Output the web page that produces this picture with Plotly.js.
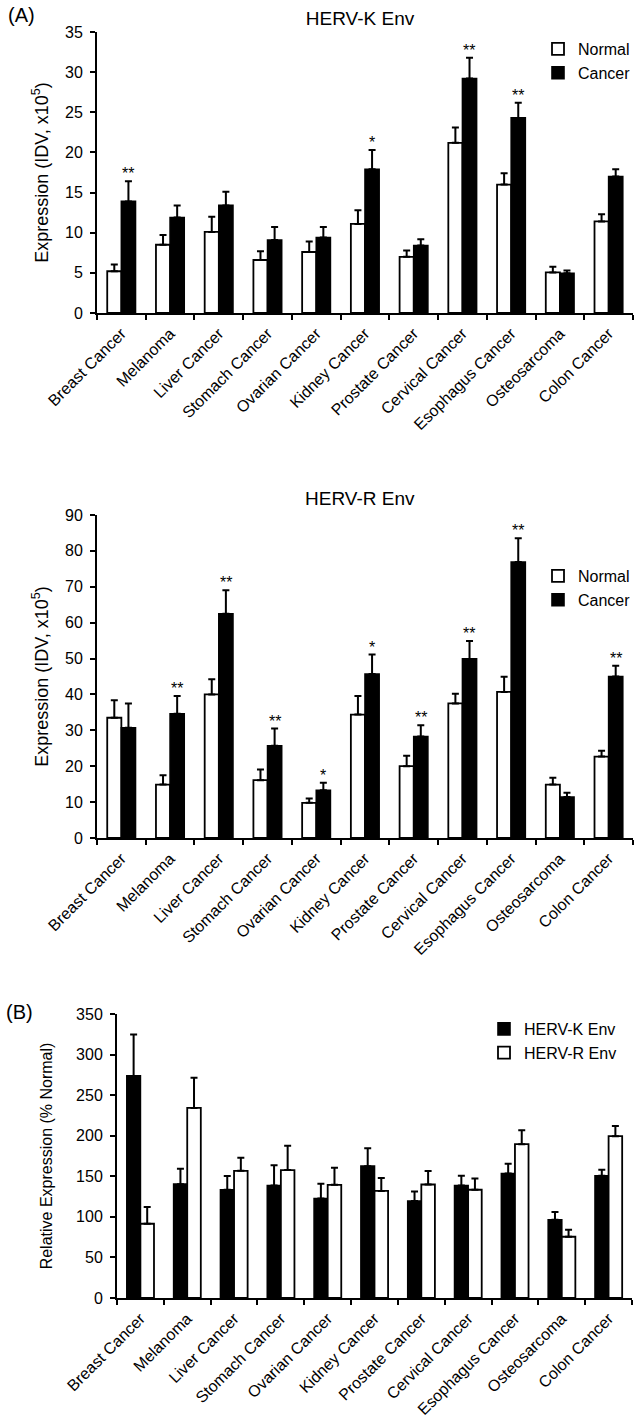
<!DOCTYPE html>
<html><head><meta charset="utf-8">
<script src="https://cdn.plot.ly/plotly-3.0.1.min.js"></script>
<style>html,body{margin:0;padding:0;background:#fff}#chart{width:636px;height:1428px}</style>
</head><body><div id="chart"></div>
<script>
const categories = ["Breast Cancer","Melanoma","Liver Cancer","Stomach Cancer","Ovarian Cancer","Kidney Cancer","Prostate Cancer","Cervical Cancer","Esophagus Cancer","Osteosarcoma","Colon Cancer"];

// HERV-K Env (IDV x10^5)
const kNormal    = [5.2, 8.5, 10.1, 6.6, 7.6, 11.1, 7.0, 21.2, 16.0, 5.05, 11.4];
const kNormalErr = [0.85, 1.2, 1.9, 1.1, 1.3, 1.7, 0.8, 1.9, 1.4, 0.7, 0.9];
const kCancer    = [13.9, 11.9, 13.4, 9.1, 9.4, 17.9, 8.4, 29.2, 24.3, 4.95, 17.0];
const kCancerErr = [2.5, 1.5, 1.7, 1.6, 1.3, 2.4, 0.8, 2.6, 1.9, 0.35, 0.9];
const kSig       = ["**", "", "", "", "", "*", "", "**", "**", "", ""];

// HERV-R Env (IDV x10^5)
const rNormal    = [33.5, 14.9, 40.0, 16.1, 9.8, 34.4, 20.0, 37.5, 40.7, 14.9, 22.7];
const rNormalErr = [4.9, 2.6, 4.2, 3.0, 1.2, 5.2, 2.9, 2.7, 4.2, 1.9, 1.6];
const rCancer    = [30.7, 34.6, 62.5, 25.7, 13.3, 45.7, 28.3, 49.9, 76.9, 11.4, 45.0];
const rCancerErr = [6.8, 5.0, 6.5, 4.8, 2.1, 5.4, 3.1, 5.0, 6.6, 1.2, 3.0];
const rSig       = ["", "**", "**", "**", "*", "*", "**", "**", "**", "", "**"];

// Relative expression (% Normal)
const relK    = [273.7, 140.3, 133.4, 138.7, 122.7, 162.5, 119.4, 138.7, 153.5, 96.4, 150.6];
const relKErr = [51, 19, 17, 25, 18, 22, 12, 12, 12, 9.5, 7.5];
const relR    = [91.5, 234.3, 156.7, 157.6, 139.5, 132.0, 139.9, 133.4, 189.6, 75.5, 199.4];
const relRErr = [20.5, 37, 16, 30, 21, 16, 16.5, 14, 17, 8.5, 12.5];

const W = 636, H = 1428;
const px = x => x / W;
const py = y => 1 - y / H;
const zeros = categories.map(() => 0);

function errUp(arr) {
  return {type: 'data', symmetric: false, array: arr, arrayminus: zeros,
          color: '#000', thickness: 2, width: 3.5};
}
const whiteBar = {color: '#fff', line: {color: '#000', width: 1.8}};
const blackBar = {color: '#000', line: {color: '#000', width: 1.6}};

const traces = [
  {type: 'bar', name: 'Normal', x: categories, y: kNormal, error_y: errUp(kNormalErr),
   marker: whiteBar, xaxis: 'x', yaxis: 'y', legend: 'legend', legendgroup: 'a1'},
  {type: 'bar', name: 'Cancer', x: categories, y: kCancer, error_y: errUp(kCancerErr),
   marker: blackBar, xaxis: 'x', yaxis: 'y', legend: 'legend', legendgroup: 'a2'},
  {type: 'bar', name: 'Normal', x: categories, y: rNormal, error_y: errUp(rNormalErr),
   marker: whiteBar, xaxis: 'x2', yaxis: 'y2', legend: 'legend2', legendgroup: 'b1'},
  {type: 'bar', name: 'Cancer', x: categories, y: rCancer, error_y: errUp(rCancerErr),
   marker: blackBar, xaxis: 'x2', yaxis: 'y2', legend: 'legend2', legendgroup: 'b2'},
  {type: 'bar', name: 'HERV-K Env', x: categories, y: relK, error_y: errUp(relKErr),
   marker: blackBar, xaxis: 'x3', yaxis: 'y3', legend: 'legend3', legendgroup: 'c1'},
  {type: 'bar', name: 'HERV-R Env', x: categories, y: relR, error_y: errUp(relRErr),
   marker: whiteBar, xaxis: 'x3', yaxis: 'y3', legend: 'legend3', legendgroup: 'c2'}
];

const font = {family: 'Liberation Sans, Arial, sans-serif', color: '#000'};

function xAxis(x0, x1, anchor) {
  return {domain: [px(x0), px(x1)], anchor: anchor, type: 'category',
          showline: true, linecolor: '#000', linewidth: 2, mirror: false,
          ticks: 'outside', tickson: 'boundaries', ticklen: 5, tickwidth: 2, tickcolor: '#000',
          ticklabelstandoff: 3,
          tickangle: -45, tickfont: {size: 16}, showgrid: false, zeroline: false, fixedrange: true};
}
function yAxis(y0, y1, anchor, range, dtick, title, titleSize, standoff) {
  return {domain: [py(y1), py(y0)], anchor: anchor, range: range, dtick: dtick,
          showline: true, linecolor: '#000', linewidth: 2,
          ticks: 'outside', ticklen: 5, tickwidth: 2, tickcolor: '#000',
          ticklabelstandoff: 4,
          tickfont: {size: 16}, showgrid: false, zeroline: false, fixedrange: true,
          title: {text: title, font: {size: titleSize}, standoff: standoff}};
}

const annotations = [];
function addStars(sig, vals, errs, xref, yref) {
  sig.forEach((s, i) => {
    if (!s) return;
    annotations.push({text: s, x: categories[i], y: vals[i] + errs[i], xref: xref, yref: yref,
      xshift: 7, yshift: -3, xanchor: 'center', yanchor: 'bottom', showarrow: false,
      font: {size: 16}});
  });
}
addStars(kSig, kCancer, kCancerErr, 'x', 'y');
addStars(rSig, rCancer, rCancerErr, 'x2', 'y2');

annotations.push({text: 'HERV-R Env', xref: 'paper', yref: 'paper', x: px(360), y: py(498),
  xanchor: 'center', yanchor: 'middle', showarrow: false, font: {size: 19}});
annotations.push({text: '(A)', xref: 'paper', yref: 'paper', x: px(6), y: py(15),
  xanchor: 'left', yanchor: 'middle', showarrow: false, font: {size: 20}});
annotations.push({text: '(B)', xref: 'paper', yref: 'paper', x: px(4), y: py(1012),
  xanchor: 'left', yanchor: 'middle', showarrow: false, font: {size: 20}});

const legendBase = {xanchor: 'left', yanchor: 'top', bgcolor: 'rgba(0,0,0,0)',
  font: {size: 16}, traceorder: 'normal', itemwidth: 30};

const layout = {
  width: W, height: H, margin: {l: 0, r: 0, t: 0, b: 0},
  paper_bgcolor: '#fff', plot_bgcolor: '#fff', font: font,
  barmode: 'group', bargap: 0.42, bargroupgap: 0,
  title: {text: 'HERV-K Env', xref: 'container', yref: 'container', x: px(360), y: py(18),
          xanchor: 'center', yanchor: 'middle', font: {size: 19}},
  showlegend: true,
  xaxis: xAxis(97, 633, 'y'),
  yaxis: yAxis(32, 313, 'x', [0, 35], 5, 'Expression (IDV, x10<sup>5</sup>)', 18, 12),
  xaxis2: xAxis(97, 633, 'y2'),
  yaxis2: yAxis(515, 838, 'x2', [0, 90], 10, 'Expression (IDV, x10<sup>5</sup>)', 18, 12),
  xaxis3: xAxis(117, 632, 'y3'),
  yaxis3: yAxis(1014, 1298, 'x3', [0, 350], 50, 'Relative Expression (% Normal)', 16, 19),
  legend: Object.assign({}, legendBase, {x: px(538), y: py(32), tracegroupgap: 4}),
  legend2: Object.assign({}, legendBase, {x: px(538), y: py(559), tracegroupgap: 11}),
  legend3: Object.assign({}, legendBase, {x: px(484), y: py(1012), tracegroupgap: 10}),
  annotations: annotations
};

Plotly.newPlot('chart', traces, layout, {staticPlot: true, displayModeBar: false});
</script>
</body></html>
